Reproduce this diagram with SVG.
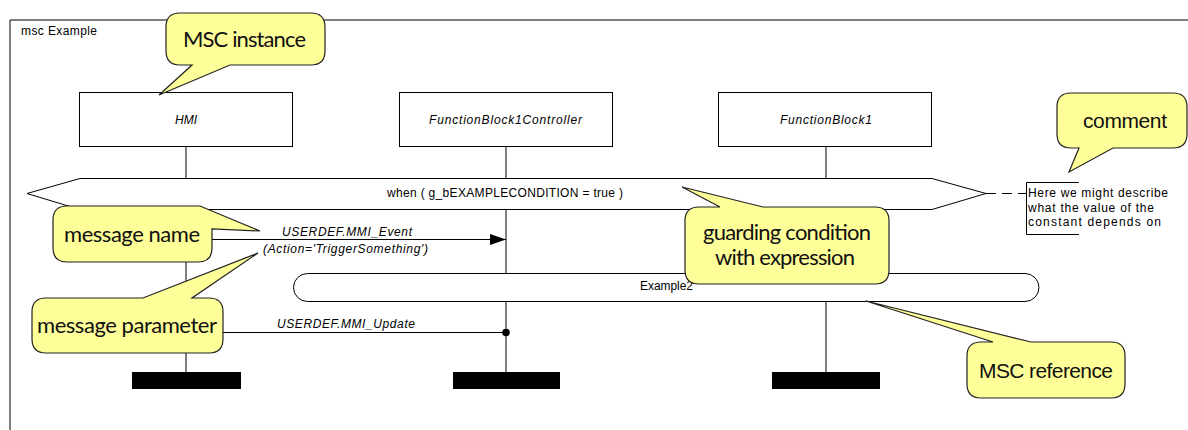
<svg xmlns="http://www.w3.org/2000/svg" width="1188" height="430" viewBox="0 0 1188 430">
<style>
.ln{stroke:#000;stroke-width:1;fill:none}
.box{fill:#fff;stroke:#000;stroke-width:1}
.t{font-family:"Liberation Sans",Arial,sans-serif;font-size:12px;fill:#000}
.ti{font-family:"Liberation Sans",Arial,sans-serif;font-size:12px;font-style:italic;fill:#000}
.call{fill:#ffff99;stroke:#222;stroke-width:1.2}
.ct{font-family:Lato,"Open Sans",sans-serif;font-size:22px;fill:#111}
.ca{font-family:"Liberation Sans",Arial,sans-serif;font-size:21px;fill:#111}
.bar{fill:#000}
</style>
<defs>
<marker id="arr" markerWidth="16" markerHeight="11" refX="16" refY="5.5" orient="auto" markerUnits="userSpaceOnUse">
<path d="M0,0 L16,5.5 L0,11 Z" fill="#000"/>
</marker>
</defs>
<rect width="1188" height="430" fill="#fff"/>
<g id="frame">
<path class="ln" d="M10,430 V20 H1188"/>
<text class="t" x="21" y="35" textLength="76">msc Example</text>
</g>
<g id="lifelines">
<line class="ln" x1="186" y1="147" x2="186" y2="372"/>
<line class="ln" x1="506" y1="147" x2="506" y2="372"/>
<line class="ln" x1="826" y1="147" x2="826" y2="372"/>
</g>
<g id="connectors">
<line class="ln" x1="186" y1="239.5" x2="506" y2="239.5" marker-end="url(#arr)"/>
<text class="ti" x="282" y="236" textLength="130">USERDEF.MMI_Event</text>
<text class="ti" x="263" y="253" textLength="165">(Action='TriggerSomething')</text>
<line class="ln" x1="186" y1="332.5" x2="506" y2="332.5"/>
<circle cx="506" cy="332.5" r="3.8" fill="#000"/>
<text class="ti" x="277" y="328" textLength="138">USERDEF.MMI_Update</text>
<line class="ln" x1="986" y1="193.5" x2="1026" y2="193.5" stroke-dasharray="10,6"/>
</g>
<g id="condition">
<path class="box" d="M27,193.5 L80,178.5 H932 L986,193.5 L932,209.5 H80 Z"/>
<text class="t" x="387" y="197" textLength="236">when ( g_bEXAMPLECONDITION = true )</text>
</g>
<g id="reference">
<rect class="box" x="293.5" y="273.5" width="745.5" height="28" rx="14" ry="14"/>
<text class="t" x="640" y="290" textLength="53">Example2</text>
</g>
<g id="comment">
<path class="ln" d="M1079,182.5 H1026.5 V234.5 H1079"/>
<text class="t" x="1028" y="197" textLength="140">Here we might describe</text>
<text class="t" x="1028" y="212" textLength="126">what the value of the</text>
<text class="t" x="1028" y="226" textLength="133">constant depends on</text>
</g>
<g id="inst-hmi">
<rect class="box" x="79.5" y="92.5" width="213" height="54"/>
<text class="ti" x="186" y="124" text-anchor="middle">HMI</text>
<rect class="bar" x="132" y="372" width="109" height="17"/>
</g>
<g id="inst-fb1c">
<rect class="box" x="399.5" y="92.5" width="213" height="54"/>
<text class="ti" x="429" y="124" textLength="153">FunctionBlock1Controller</text>
<rect class="bar" x="453" y="372" width="107" height="17"/>
</g>
<g id="inst-fb1">
<rect class="box" x="718.5" y="92.5" width="213" height="54"/>
<text class="ti" x="780" y="124" textLength="92">FunctionBlock1</text>
<rect class="bar" x="772" y="372" width="108" height="17"/>
</g>
<g id="callout-instance">
<path class="call" d="M180,13 H311 Q325,13 325,27 V51 Q325,65 311,65 H230 L159,95 L192,65 H180 Q166,65 166,51 V27 Q166,13 180,13 Z"/>
<text class="ct" x="183" y="47" textLength="123">MSC instance</text>
</g>
<g id="callout-comment">
<path class="call" d="M1071,93 H1173 Q1187,93 1187,107 V134 Q1187,148 1173,148 H1113 L1069,172 L1079,148 H1071 Q1057,148 1057,134 V107 Q1057,93 1071,93 Z"/>
<text class="ca" x="1083" y="128" textLength="84">comment</text>
</g>
<g id="callout-msgname">
<path class="call" d="M67,206 H200 L260,231 L212,229 V248 Q212,262 198,262 H67 Q53,262 53,248 V220 Q53,206 67,206 Z"/>
<text class="ct" x="64" y="242" textLength="136">message name</text>
</g>
<g id="callout-msgparam">
<path class="call" d="M46,298 H143 L258,253 L192,298 H209 Q223,298 223,312 V339 Q223,353 209,353 H46 Q32,353 32,339 V312 Q32,298 46,298 Z"/>
<text class="ct" x="37" y="333" textLength="180">message parameter</text>
</g>
<g id="callout-guard">
<path class="call" d="M699,207 H720 L682,187 L763,207 H875 Q889,207 889,221 V270 Q889,284 875,284 H699 Q685,284 685,270 V221 Q685,207 699,207 Z"/>
<text class="ct" x="703" y="240" textLength="168">guarding condition</text>
<text class="ct" x="715" y="265" textLength="140">with expression</text>
</g>
<g id="callout-ref">
<path class="call" d="M981,342 H993 L866,301 L1031,342 H1111 Q1125,342 1125,356 V384 Q1125,398 1111,398 H981 Q967,398 967,384 V356 Q967,342 981,342 Z"/>
<text class="ca" x="979" y="378" textLength="134">MSC reference</text>
</g>
</svg>
